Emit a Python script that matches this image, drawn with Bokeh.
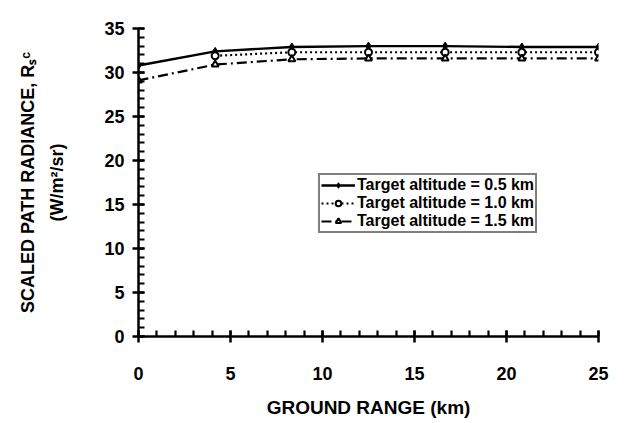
from bokeh.plotting import figure
from bokeh.models import SingleIntervalTicker, Legend, LegendItem, Range1d
from bokeh.embed import file_html
from bokeh.resources import INLINE

x_km = [0, 25/6, 50/6, 12.5, 100/6, 125/6, 25]
alt05 = [30.8, 32.4, 32.9, 33.0, 33.0, 32.9, 32.9]
x_km10 = [25/6, 50/6, 12.5, 100/6, 125/6, 25]
alt10 = [31.9, 32.3, 32.3, 32.3, 32.3, 32.3]
alt15 = [29.1, 30.9, 31.5, 31.6, 31.6, 31.6, 31.6]
labels = ["Target altitude = 0.5 km", "Target altitude = 1.0 km", "Target altitude = 1.5 km"]

FONT = "Liberation Sans"

p = figure(width=631, height=420, output_backend="svg", toolbar_location=None,
           x_range=Range1d(0, 25), y_range=Range1d(0, 35),
           min_border_left=138, min_border_right=33, min_border_top=28, min_border_bottom=84)
p.outline_line_color = None
p.xgrid.visible = False
p.ygrid.visible = False

r1l = p.line(x_km, alt05, line_color="black", line_width=2.4)
r1m = p.scatter(x_km, alt05, marker="diamond", size=8, fill_color="black", line_color="black")
r2l = p.line(x_km10, alt10, line_color="black", line_width=2.2, line_dash="2 3")
r2m = p.scatter(x_km10, alt10, marker="circle", size=7, fill_color="white", line_color="black", line_width=2)
r3l = p.line(x_km, alt15, line_color="black", line_width=2.2, line_dash="10 4 2 4")
r3m = p.scatter(x_km, alt15, marker="triangle", size=7, fill_color="white", line_color="black", line_width=2)

for ax in (p.xaxis[0], p.yaxis[0]):
    ax.ticker = SingleIntervalTicker(interval=5, num_minor_ticks=5)
    ax.axis_line_width = 2.5
    ax.axis_line_color = "black"
    ax.major_tick_line_width = 2.5
    ax.minor_tick_line_width = 2.2
    ax.major_tick_in = 6
    ax.major_tick_out = 6
    ax.minor_tick_in = 6
    ax.minor_tick_out = 0
    ax.major_label_text_font = FONT
    ax.major_label_text_font_style = "bold"
    ax.major_label_text_font_size = "18px"
    ax.major_label_text_color = "black"
    ax.axis_label_text_font = FONT
    ax.axis_label_text_font_style = "bold"
    ax.axis_label_text_color = "black"

p.xaxis.major_label_standoff = 24
p.xaxis.axis_label = "GROUND RANGE (km)"
p.xaxis.axis_label_text_font_size = "19px"
p.xaxis.axis_label_standoff = 14
p.yaxis.major_label_standoff = 8
p.yaxis.axis_label = "SCALED PATH RADIANCE, R\u209b\u1d9c\n(W/m\u00b2/sr)"
p.yaxis.axis_label_text_font_size = "18px"
p.yaxis.axis_label_text_line_height = 1.45
p.yaxis.axis_label_standoff = 34

legend = Legend(items=[
    LegendItem(label=labels[0], renderers=[r1l, r1m]),
    LegendItem(label=labels[1], renderers=[r2l, r2m]),
    LegendItem(label=labels[2], renderers=[r3l, r3m]),
], location=(180, 103))
legend.border_line_color = "black"
legend.border_line_width = 2.5
legend.label_text_font = FONT
legend.label_text_font_style = "bold"
legend.label_text_font_size = "16px"
legend.label_text_color = "black"
legend.spacing = 0
legend.padding = 1
legend.margin = 0
legend.glyph_width = 34
legend.glyph_height = 14
legend.label_height = 14
legend.label_standoff = 2
legend.background_fill_alpha = 1
p.add_layout(legend)

open("out.html", "w").write(file_html(p, INLINE))
